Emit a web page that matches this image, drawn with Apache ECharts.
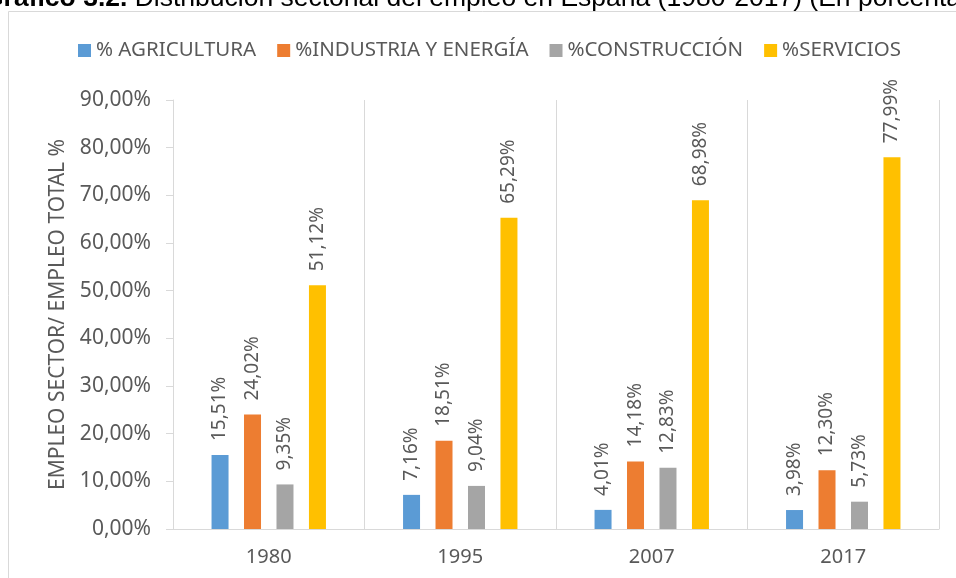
<!DOCTYPE html>
<html>
<head>
    <meta charset="utf-8" />
    <title>Empleo sectorial</title>
    <script src="https://cdn.jsdelivr.net/npm/echarts@6.0.0/dist/echarts.min.js"></script>
</head>
<body style="margin:0">
    <div id="main" style="width: 956px;height: 578px;"></div>
    <script type="text/javascript">
        var years = ['1980', '1995', '2007', '2017'];
        var agricultura = [15.51, 7.16, 4.01, 3.98];
        var industria = [24.02, 18.51, 14.18, 12.30];
        var construccion = [9.35, 9.04, 12.83, 5.73];
        var servicios = [51.12, 65.29, 68.98, 77.99];
        var seriesNames = ['% AGRICULTURA', '%INDUSTRIA Y ENERGÍA', '%CONSTRUCCIÓN', '%SERVICIOS'];
        var colors = ['#5B9BD5', '#ED7D31', '#A5A5A5', '#FFC000'];

        var myChart = echarts.init(document.getElementById('main'));

        function pct(v) {
            return v.toFixed(2).replace('.', ',') + '%';
        }

        function makeSeries(name, data, i) {
            return {
                name: name,
                type: 'bar',
                data: data,
                barWidth: 17,
                barGap: '91%',
                itemStyle: { color: colors[i] },
                label: {
                    show: true,
                    position: 'top',
                    rotate: 90,
                    align: 'left',
                    verticalAlign: 'middle',
                    distance: 14,
                    color: '#595959',
                    fontSize: 19,
                    fontFamily: 'Noto Sans',
                    formatter: function (p) { return pct(p.value); }
                }
            };
        }

        var option = {
            animation: false,
            title: {
                text: '{b|Gráfico 3.2.} Distribución sectorial del empleo en España (1980-2017) (En porcentaje)',
                left: -22,
                top: -20,
                textStyle: {
                    fontSize: 26.5,
                    fontWeight: 'normal',
                    color: '#000',
                    fontFamily: 'Liberation Sans',
                    rich: { b: { fontSize: 26.5, fontWeight: 'bold', fontFamily: 'Liberation Sans', color: '#000' } }
                }
            },
            graphic: [{
                type: 'rect',
                shape: { x: 8.5, y: 11.5, width: 1000, height: 700 },
                style: { fill: null, stroke: '#D9D9D9', lineWidth: 1 },
                silent: true
            }],
            legend: {
                top: 35,
                left: 73,
                itemWidth: 13,
                itemHeight: 13,
                itemGap: 21,
                icon: 'rect',
                textStyle: { color: '#595959', fontSize: 20.5, fontFamily: 'Noto Sans' },
                data: seriesNames
            },
            grid: { left: 173, right: 17, top: 100, bottom: 49 },
            xAxis: {
                type: 'category',
                data: years,
                axisTick: { show: false },
                axisLine: { lineStyle: { color: '#D9D9D9' } },
                splitLine: { show: true, lineStyle: { color: '#D9D9D9' } },
                axisLabel: { color: '#595959', fontSize: 20, margin: 18, fontFamily: 'Noto Sans' }
            },
            yAxis: {
                type: 'value',
                min: 0,
                max: 90,
                interval: 10,
                name: 'EMPLEO SECTOR/ EMPLEO TOTAL %',
                nameLocation: 'middle',
                nameGap: 104,
                nameTextStyle: { color: '#595959', fontSize: 21, fontFamily: 'Noto Sans' },
                axisLine: { show: true, lineStyle: { color: '#D9D9D9' } },
                axisTick: { show: true, length: 7, lineStyle: { color: '#D9D9D9' } },
                splitLine: { show: false },
                axisLabel: {
                    color: '#595959',
                    fontSize: 21,
                    margin: 22,
                    fontFamily: 'Noto Sans',
                    formatter: function (v) { return pct(v); }
                }
            },
            series: [
                makeSeries(seriesNames[0], agricultura, 0),
                makeSeries(seriesNames[1], industria, 1),
                makeSeries(seriesNames[2], construccion, 2),
                makeSeries(seriesNames[3], servicios, 3)
            ]
        };

        myChart.setOption(option);
    </script>
</body>
</html>
